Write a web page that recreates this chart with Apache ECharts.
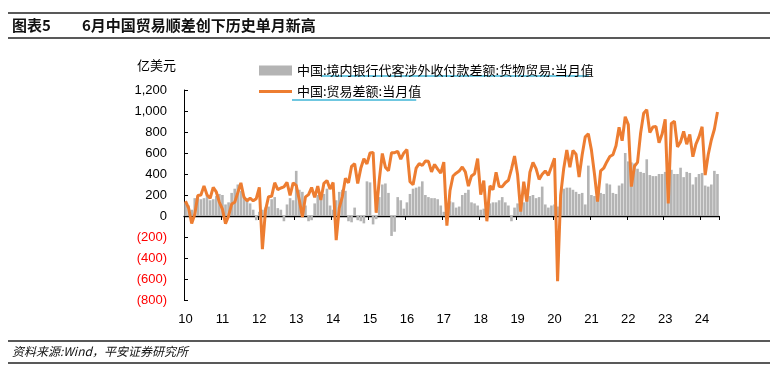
<!DOCTYPE html>
<html><head><meta charset="utf-8">
<script src="https://cdn.jsdelivr.net/npm/echarts@6/dist/echarts.min.js"></script>
<style>html,body{margin:0;padding:0;background:#fff}#c{width:770px;height:373px}</style>
</head><body><div id="c"></div>
<script>
// ---- data ----
const yearLabels = ['10','11','12','13','14','15','16','17','18','19','20','21','22','23','24'];
const months = [];
for (let y = 2010; y <= 2024; y++) {
  for (let m = 1; m <= 12; m++) {
    if (y === 2024 && m > 6) break;
    months.push(y + '-' + (m < 10 ? '0' + m : m));
  }
}
const barName = '中国:境内银行代客涉外收付款差额:货物贸易:当月值';
const lineName = '中国:贸易差额:当月值';
// 境内银行代客涉外收付款差额:货物贸易 (亿美元)
const bankGoods = [
  130,100,60,170,190,160,170,200,150,160,190,210,
  200,110,130,220,260,300,240,190,170,120,60,-40,
  40,60,80,90,160,180,75,60,-50,110,170,150,
  430,250,230,100,-50,-40,120,200,220,210,260,100,
  60,150,230,250,240,-50,-60,80,-40,-50,-70,330,
  320,-80,-30,180,300,310,220,-190,-150,180,150,70,
  130,210,260,270,280,330,200,180,170,170,160,100,
  40,90,140,130,80,90,200,220,250,130,120,100,
  60,70,90,120,130,130,150,180,130,100,-50,80,
  120,100,130,180,190,200,170,180,280,110,80,100,
  110,90,150,260,270,270,250,230,210,220,110,480,
  200,190,200,220,210,310,300,220,210,290,310,600,
  520,510,500,450,420,410,540,390,380,380,400,400,
  420,430,440,400,400,460,370,420,410,300,370,400,
  410,290,280,300,430,400
];
// 贸易差额 (亿美元)
const tradeBalance = [
  142,76,-72,17,195,200,287,200,169,272,229,131,
  65,-73,1,114,131,223,315,178,145,170,145,165,
  273,-315,54,184,187,317,251,267,277,320,196,316,
  292,153,-9,182,204,271,178,285,152,311,338,256,
  319,-230,77,185,359,316,473,498,310,454,545,496,
  600,606,31,341,595,465,430,602,603,616,541,601,
  633,326,299,456,500,481,523,521,420,491,446,408,
  514,-91,240,381,408,428,467,420,285,382,402,547,
  203,337,-50,288,249,416,281,279,317,340,447,571,
  392,41,326,138,417,510,451,348,397,429,387,468,
  550,-620,199,453,629,464,623,589,370,584,754,782,
  630,400,138,429,455,515,566,583,668,845,717,945,
  870,280,474,511,788,979,1013,794,847,852,698,780,
  920,120,882,902,658,706,806,684,777,565,684,753,
  850,390,586,724,826,991
];
const yTicks = [-800,-600,-400,-200,0,200,400,600,800,1000,1200];

// ---- chart ----
const FONT = '"Liberation Sans", Arial, "Noto Sans CJK SC", sans-serif';
const CJK = '"Noto Sans CJK SC", "Liberation Sans", sans-serif';
function fmt(v){ return String(Math.abs(v)).replace(/\B(?=(\d{3})+(?!\d))/g, ','); }

const legendLeft = 254, legendIcon = 33, legendFont = 13;
const ctx = document.createElement('canvas').getContext('2d');
ctx.font = legendFont + 'px ' + CJK;
const txt0 = legendLeft + legendIcon + 5;
const w1a = ctx.measureText('中国:').width;
const w1 = ctx.measureText(barName).width;
const w2 = ctx.measureText(lineName).width;

const chart = echarts.init(document.getElementById('c'), null, {renderer: 'canvas'});
chart.setOption({
  animation: false,
  backgroundColor: '#fff',
  grid: {left: 184, right: 51, top: 90, bottom: 73, containLabel: false},
  legend: {
    left: legendLeft, top: 59, orient: 'vertical', itemGap: 8,
    itemWidth: legendIcon, itemHeight: 10,
    textStyle: {fontSize: legendFont, color: '#000', fontFamily: CJK},
    data: [{name: barName, icon: 'rect'},
           {name: lineName, icon: 'path://M0,0H33V3.2H0Z'}]
  },
  xAxis: [{
    type: 'category', data: months, position: 'bottom',
    axisLine: {show: false, onZero: false}, axisTick: {show: false},
    axisLabel: {interval: (i) => i % 12 === 0, formatter: (v) => v.slice(2,4),
      margin: 13, fontSize: 13, color: '#000', fontFamily: FONT}
  }, {
    type: 'category', data: months, position: 'top',
    axisLine: {show: true, onZero: true, lineStyle: {color: '#000', width: 1.3}},
    axisTick: {show: true, inside: true, length: 4, interval: (i) => i % 12 === 0, lineStyle: {color: '#000'}},
    axisLabel: {show: false}
  }],
  yAxis: {
    type: 'value', min: -800, max: 1200, interval: 200,
    axisLine: {show: true, lineStyle: {color: '#000', width: 1}},
    axisTick: {show: true, inside: true, length: 4, lineStyle: {color: '#000'}},
    splitLine: {show: false},
    axisLabel: {margin: 17, fontSize: 13, fontFamily: FONT,
      formatter: (v) => v < 0 ? '(' + fmt(v) + ')' : fmt(v),
      color: (v) => Number(v) < 0 ? '#ff0000' : '#000'}
  },
  series: [{
    name: barName, type: 'bar', xAxisIndex: 0, data: bankGoods,
    barCategoryGap: '15%', itemStyle: {color: '#b4b4b4'}
  }, {
    name: lineName, type: 'line', xAxisIndex: 0, data: tradeBalance,
    showSymbol: false, symbol: 'none', z: 5,
    lineStyle: {color: '#ed7d31', width: 3}, itemStyle: {color: '#ed7d31'}
  }],
  graphic: [
    {type: 'line', shape: {x1: 8, y1: 13, x2: 770, y2: 13}, style: {stroke: '#222', lineWidth: 1.5}},
    {type: 'text', left: 12, top: 18, style: {text: '图表5', font: 'bold 15px ' + CJK, fill: '#111'}},
    {type: 'text', left: 82, top: 18, style: {text: '6月中国贸易顺差创下历史单月新高', font: 'bold 15px ' + CJK, fill: '#111'}},
    {type: 'line', shape: {x1: 8, y1: 38, x2: 770, y2: 38}, style: {stroke: '#222', lineWidth: 1.5}},
    {type: 'text', left: 137, top: 59, style: {text: '亿美元', font: '13px ' + CJK, fill: '#000'}},
    {type: 'line', shape: {x1: txt0 + w1a, y1: 76, x2: txt0 + w1, y2: 76}, style: {stroke: '#3fb4d6', lineWidth: 1.3}},
    {type: 'line', shape: {x1: txt0, y1: 100, x2: txt0 + w2, y2: 100}, style: {stroke: '#3fb4d6', lineWidth: 1.3}},
    {type: 'line', shape: {x1: 8, y1: 341, x2: 770, y2: 341}, style: {stroke: '#222', lineWidth: 1.5}},
    {type: 'text', left: 12, top: 345, style: {text: '资料来源:Wind，平安证券研究所', font: 'italic 12px ' + CJK, fill: '#111'}},
    {type: 'line', shape: {x1: 8, y1: 363, x2: 770, y2: 363}, style: {stroke: '#222', lineWidth: 1.5}}
  ]
});
</script>
</body></html>
